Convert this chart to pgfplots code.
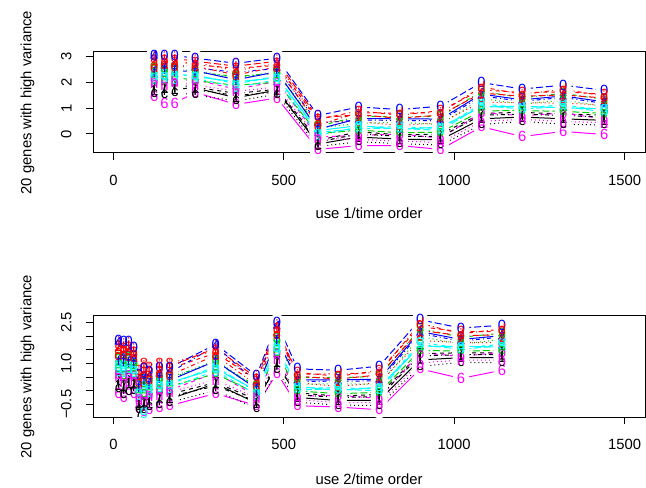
\documentclass[border=0pt]{standalone}
\usepackage{pgfplots}
\pgfplotsset{compat=1.18}
\usepackage{pgfplotstable}
\usepackage{fontspec}
\setmainfont{Liberation Sans}
\definecolor{rblack}{HTML}{000000}
\definecolor{rred}{HTML}{FF0000}
\definecolor{rgreen}{HTML}{00CD00}
\definecolor{rblue}{HTML}{0000FF}
\definecolor{rcyan}{HTML}{00FFFF}
\definecolor{rmag}{HTML}{FF00FF}

% R matplot: 20 series, colours 1:6, lty 1:5, pch 1..9,0,a..j
\tikzset{
  lty1/.style={solid},
  lty2/.style={dash pattern=on 2pt off 2pt},
  lty3/.style={dash pattern=on 0.5pt off 1.5pt},
  lty4/.style={dash pattern=on 0.5pt off 1.5pt on 2pt off 1.5pt},
  lty5/.style={dash pattern=on 3.5pt off 1.5pt},
}
\newcommand{\rfont}{\fontsize{7.4}{9}\selectfont}
\pgfplotsset{
  ser1/.style={rblack,lty1},  lab1/.style={rblack,text mark={1}},
  ser2/.style={rred,lty2},    lab2/.style={rred,text mark={2}},
  ser3/.style={rgreen,lty3},  lab3/.style={rgreen,text mark={3}},
  ser4/.style={rblue,lty4},   lab4/.style={rblue,text mark={4}},
  ser5/.style={rcyan,lty5},   lab5/.style={rcyan,text mark={5}},
  ser6/.style={rmag,lty1},    lab6/.style={rmag,text mark={6}},
  ser7/.style={rblack,lty2},  lab7/.style={rblack,text mark={7}},
  ser8/.style={rred,lty3},    lab8/.style={rred,text mark={8}},
  ser9/.style={rgreen,lty4},  lab9/.style={rgreen,text mark={9}},
  ser10/.style={rblue,lty5},  lab10/.style={rblue,text mark={0}},
  ser11/.style={rcyan,lty1},  lab11/.style={rcyan,text mark={a}},
  ser12/.style={rmag,lty2},   lab12/.style={rmag,text mark={b}},
  ser13/.style={rblack,lty3}, lab13/.style={rblack,text mark={c}},
  ser14/.style={rred,lty4},   lab14/.style={rred,text mark={d}},
  ser15/.style={rgreen,lty5}, lab15/.style={rgreen,text mark={e}},
  ser16/.style={rblue,lty1},  lab16/.style={rblue,text mark={f}},
  ser17/.style={rcyan,lty2},  lab17/.style={rcyan,text mark={g}},
  ser18/.style={rmag,lty3},   lab18/.style={rmag,text mark={h}},
  ser19/.style={rblack,lty4}, lab19/.style={rblack,text mark={i}},
  ser20/.style={rred,lty5},   lab20/.style={rred,text mark={j}},
  panel/.style={
    scale only axis, width=276pt, height=50.5pt,
    xmin=-60, xmax=1560, xtick={0,500,1000,1500},
    tick align=outside, major tick length=3.5pt,
    xtick pos=left, ytick pos=left,
    tick style={black,line width=0.5pt},
    axis line style={line width=0.5pt},
    axis on top,
    tick label style={font=\rfont},
    label style={font=\rfont},
    /pgf/number format/assume math mode=true,
    /pgf/number format/1000 sep={},
    xticklabel style={anchor=north,inner sep=0pt},
    xticklabel shift=7.5pt,
    yticklabel style={rotate=90,anchor=south,inner sep=0pt},
    yticklabel shift=7pt,
    ylabel style={at={(axis description cs:-0.1116,0.5)},anchor=base},
    text mark as node=true,
    text mark style={font=\rfont,inner sep=0pt,anchor=center},
  },
}

\pgfplotstableread{
t    s1    s2   s3   s4   s5   s6    s7    s8   s9   s10  s11  s12   s13   s14  s15  s16  s17   s18   s19   s20
120  1.71  2.86 2.46 3.02 2.25 1.45  1.88  2.76 2.54 3.05 2.33 2.04  1.58  2.60 2.19 2.41 2.12  1.96  1.80  2.94
150  1.77  2.76 2.54 2.63 2.33 1.20  1.80  2.86 2.44 3.05 2.25 2.12  1.55  2.70 2.09 2.51 2.19  1.90  1.69  2.92
180  1.75  2.86 2.48 2.71 2.28 1.20  1.92  2.77 2.55 3.05 2.35 2.07  1.62  2.62 2.21 2.43 2.15  2.00  1.84  2.94
240  1.79  2.69 2.49 2.57 2.30 1.62  1.82  2.78 2.40 2.95 2.23 2.11  1.52  2.63 2.08 2.46 2.17  1.91  1.72  2.83
360  1.41  2.56 2.16 2.40 1.95 1.15  1.58  2.46 2.24 2.75 2.03 1.74  1.28  2.30 1.89 2.11 1.82  1.66  1.50  2.64
480  1.71  2.67 2.45 2.55 2.25 1.40  1.74  2.76 2.36 2.95 2.18 2.05  1.55  2.61 2.02 2.42 2.11  1.83  1.63  2.83
600  -0.39 0.56 0.23 0.43 0.06 -0.60 -0.24 0.48 0.30 0.72 0.13 -0.11 -0.49 0.35 0.01 0.19 -0.05 -0.18 -0.31 0.63
720  -0.12 0.90 0.42 0.54 0.21 -0.45 0.08  0.48 0.69 1.05 0.33 -0.06 -0.30 0.83 0.15 0.60 0.27  -0.21 0.00  0.75
840  -0.20 0.73 0.45 0.53 0.22 -0.45 -0.03 0.33 0.67 0.95 0.18 0.00  -0.38 0.81 0.05 0.59 0.28  -0.28 -0.09 0.61
960  -0.23 0.91 0.37 0.51 0.14 -0.60 -0.01 0.44 0.68 1.08 0.27 -0.16 -0.43 0.83 0.07 0.58 0.21  -0.33 -0.10 0.74
1080 0.59  1.72 1.38 1.48 1.11 0.28  0.80  1.24 1.66 2.00 1.05 0.83  0.37  1.83 0.90 1.55 1.17  0.49  0.73  1.59
1200 0.66  1.61 1.16 1.27 0.97 -0.10 0.84  1.22 1.41 1.75 1.08 0.71  0.49  1.54 0.91 1.33 1.02  0.57  0.77  1.47
1320 0.59  1.64 1.32 1.42 1.07 0.10  0.78  1.20 1.58 1.90 1.02 0.81  0.38  1.74 0.88 1.48 1.13  0.49  0.72  1.52
1440 0.53  1.55 1.07 1.19 0.86 -0.02 0.73  1.13 1.34 1.70 0.98 0.59  0.35  1.48 0.80 1.25 0.92  0.44  0.65  1.40
}\topdata

\pgfplotstableread{
t    s1    s2   s3   s4   s5    s6    s7    s8   s9   s10  s11  s12   s13   s14  s15   s16  s17   s18   s19   s20
15   0.21  1.62 1.13 1.78 0.88  -0.10 0.43  1.50 1.23 1.85 0.97 0.62  0.06  1.30 0.80  1.07 0.72  0.52  0.33  1.71
30   0.16  1.43 1.14 1.27 0.88  -0.25 0.20  1.55 1.02 1.80 0.78 0.61  -0.13 1.35 0.57  1.10 0.69  0.32  0.06  1.64
45   0.25  1.58 1.12 1.39 0.88  0.02  0.45  1.47 1.21 1.80 0.97 0.63  -0.05 1.28 0.80  1.06 0.73  0.54  0.36  1.67
60   0.24  1.29 1.06 1.16 0.84  -0.10 0.27  1.40 0.95 1.60 0.75 0.61  0.00  1.23 0.58  1.02 0.68  0.38  0.16  1.46
75   -0.55 0.56 0.18 0.41 -0.03 -0.65 -0.80 0.75 0.25 0.60 0.05 -0.23 -0.68 0.32 -0.09 0.13 -0.15 -0.30 -0.46 0.64
90   -0.48 0.67 0.41 0.52 0.17  -0.75 -0.44 1.00 0.30 0.82 0.08 -0.07 -0.70 0.59 -0.11 0.37 -0.83 -0.33 -0.57 0.85
105  -0.45 0.66 0.28 0.51 0.08  -0.70 -0.28 0.85 0.35 0.70 0.15 -0.13 -0.58 0.42 0.01  0.23 -0.05 -0.20 -0.36 0.74
135  -0.28 0.71 0.49 0.58 0.28  -0.60 -0.25 1.00 0.39 0.84 0.20 0.07  -0.50 0.65 0.04  0.46 0.14  -0.15 -0.36 0.87
165  -0.30 0.81 0.43 0.66 0.23  -0.55 -0.13 1.00 0.50 0.85 0.30 0.02  -0.43 0.57 0.16  0.38 0.10  -0.05 -0.21 0.89
300  0.26  1.38 1.12 1.65 0.89  -0.10 0.30  1.48 1.02 1.70 0.80 0.66  0.01  1.30 0.62  1.09 0.73  0.40  0.17  1.56
420  -0.46 0.41 0.11 0.29 -0.05 -0.55 -0.33 0.33 0.17 0.55 0.01 -0.21 -0.65 0.21 -0.10 0.07 -0.15 -0.27 -0.39 0.47
480  1.02  2.17 1.91 2.35 1.67  0.65  1.06  2.28 1.80 2.50 1.58 1.43  0.76  2.09 1.39  1.87 1.50  1.17  0.93  2.35
540  -0.25 0.67 0.23 0.34 0.04  -0.55 -0.08 0.29 0.48 0.80 0.15 -0.20 -0.42 0.60 -0.01 0.40 0.10  -0.33 -0.15 0.53
660  -0.36 0.53 0.26 0.35 0.05  -0.60 -0.20 0.16 0.48 0.75 0.01 -0.17 -0.53 0.62 -0.11 0.40 0.10  -0.44 -0.25 0.43
780  -0.35 0.74 0.23 0.36 0.00  -0.70 -0.14 0.29 0.52 0.90 0.13 -0.28 -0.54 0.66 -0.06 0.42 0.07  -0.44 -0.22 0.58
900  1.13  2.35 1.98 2.10 1.69  0.80  1.36  1.84 2.28 2.60 1.63 1.39  0.89  2.47 1.47  2.17 1.76  1.02  1.28  2.21
1020 1.21  2.16 1.71 1.82 1.52  0.45  1.39  1.77 1.96 2.30 1.63 1.26  1.04  2.09 1.46  1.88 1.57  1.12  1.32  2.02
1140 1.21  2.17 1.88 1.97 1.65  0.75  1.39  1.76 2.11 2.40 1.60 1.41  1.02  2.26 1.47  2.02 1.70  1.12  1.33  2.05
}\bottomdata

% type="b": lines, then white gaps round the points, then the symbols
\newcommand{\plotall}[1]{%
  \pgfplotsinvokeforeach{1,2,...,20}{%
    \addplot[ser##1,no markers,line width=0.5pt] table[x=t,y=s##1]{#1};}
  \pgfplotsinvokeforeach{1,2,...,20}{%
    \addplot[only marks,white,mark=*,mark size=4pt] table[x=t,y=s##1]{#1};}
  \pgfplotsinvokeforeach{1,2,...,20}{%
    \addplot[only marks,mark=text,lab##1] table[x=t,y=s##1]{#1};}
}

\begin{document}
\begin{tikzpicture}
\useasboundingbox (0,0) rectangle (323pt,243.5pt);
\begin{axis}[panel, at={(46.5pt,167pt)}, anchor=south west,
    ymin=-0.74, ymax=3.19, ytick={0,1,2,3},
    xlabel={use 1/time order},
    ylabel={20 genes with high variance},
    xlabel style={at={(axis description cs:0.5,-0.6485)},anchor=base}]
\plotall{\topdata}
\end{axis}
\begin{axis}[panel, at={(46.5pt,35pt)}, anchor=south west,
    ymin=-0.965, ymax=2.74,
    ytick={-0.5,0,0.5,1,1.5,2,2.5},
    yticklabels={−0.5,,,1.0,,,2.5},
    xlabel={use 2/time order},
    ylabel={20 genes with high variance},
    xlabel style={at={(axis description cs:0.5,-0.665)},anchor=base}]
\plotall{\bottomdata}
\end{axis}
\end{tikzpicture}
\end{document}
